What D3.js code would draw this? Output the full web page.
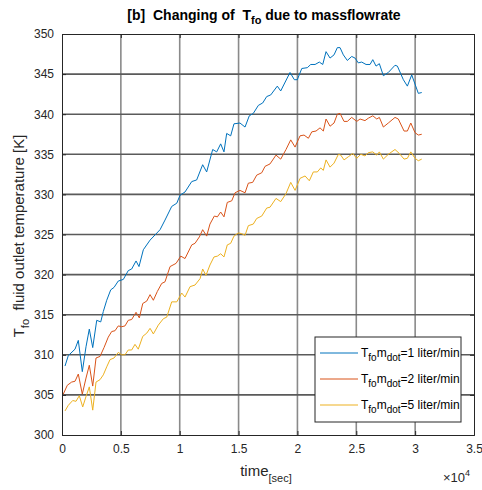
<!DOCTYPE html>
<html>
<head>
<meta charset="utf-8">
<script src="https://cdn.jsdelivr.net/npm/d3@7"></script>
<style>
  body { margin: 0; background: #fff; }
  text { font-family: "Liberation Sans", Arial, sans-serif; white-space: pre; }
</style>
</head>
<body>
<svg></svg>
<script>
const width = 482;
const height = 490;
const margin = {top: 34, right: 8, bottom: 55, left: 62};

// time in seconds, temperature in K
const tBlue = [255, 535, 1105, 1385, 1725, 2040, 2320, 2610, 2950, 3290, 3510, 3800, 4140, 4420, 4780,
  5210, 5630, 5920, 6290, 6540, 6910, 7480, 8330, 8750, 9320, 9750, 10030, 10450, 11020, 11440,
  11950, 12290, 12800, 13140, 13480, 13760, 13990, 14330, 14610, 15120, 15550, 15910, 16250, 16680, 17050,
  17390, 17730, 18290, 18580, 19370, 19740, 19990, 20370, 20840, 21130, 21500, 21860, 22150, 22430, 22770,
  23110, 23390, 23620, 23900, 24240, 24610, 24890, 25170, 25460, 25830, 26170, 26400, 26680, 26960, 27300,
  27720, 28290, 28490, 29000, 29340, 29710, 30270, 30560];
const fBlue = [308.6, 309.9, 310.7, 311.8, 307.9, 311.0, 313.2, 310.9, 314.3, 314.1, 315.4, 316.8, 318.1, 318.4, 319.2,
  319.4, 320.5, 320.7, 321.7, 321.0, 323.1, 324.3, 325.6, 326.8, 328.5, 328.9, 329.9, 330.3, 331.6, 331.8,
  333.7, 332.8, 335.6, 335.3, 336.3, 335.3, 337.6, 337.3, 338.8, 338.9, 338.4, 339.8, 340.1, 341.1, 341.4,
  342.2, 342.4, 343.5, 342.9, 345.2, 344.3, 344.3, 345.7, 345.8, 346.2, 346.2, 346.5, 346.2, 347.8, 347.0,
  347.4, 348.3, 348.3, 347.4, 346.7, 347.2, 347.0, 346.4, 346.5, 346.2, 346.2, 346.8, 346.0, 346.3, 344.8,
  345.2, 346.1, 346.0, 344.3, 343.5, 344.9, 342.6, 342.7];

const tOrange = [110, 450, 820, 1105, 1385, 1725, 2040, 2320, 2610, 2890, 3230, 3570, 3930, 4220, 4500,
  4780, 5070, 5350, 5630, 5920, 6290, 6570, 6860, 7200, 7480, 7760, 8100, 8470, 8750, 9180,
  9690, 10090, 10450, 11020, 11300, 11670, 11950, 12290, 12570, 12940, 13200, 13480, 13760, 14040, 14420,
  14700, 15120, 15550, 15830, 16200, 16540, 16970, 17250, 17670, 18180, 18580, 19030, 19430, 19800, 20220,
  20560, 20930, 21220, 21580, 21920, 22200, 22430, 22770, 23110, 23390, 23620, 23960, 24240, 24610, 25040,
  25320, 25740, 26020, 26400, 26740, 26960, 27300, 27720, 28290, 28570, 29060, 29340, 29630, 29990, 30270, 30560];
const fOrange = [305.1, 306.2, 306.6, 306.7, 307.6, 305.1, 307.1, 308.7, 306.1, 309.6, 309.8, 310.9, 312.2, 312.9, 313.0,
  313.6, 313.5, 313.6, 314.3, 314.4, 315.3, 314.6, 316.4, 316.7, 317.5, 316.8, 317.9, 318.9, 319.1, 321.0,
  321.4, 322.3, 322.0, 323.7, 323.9, 324.7, 325.6, 324.8, 326.3, 327.3, 327.2, 327.8, 327.2, 329.0, 329.2,
  330.2, 330.5, 330.2, 331.4, 331.5, 332.4, 332.7, 333.5, 333.8, 334.9, 334.4, 335.6, 336.8, 335.9, 337.3,
  337.4, 337.0, 337.8, 337.9, 338.3, 337.9, 339.4, 338.5, 338.9, 340.0, 340.1, 339.1, 339.1, 339.6, 339.1,
  339.4, 339.2, 339.5, 339.8, 339.4, 339.6, 338.4, 338.9, 339.6, 339.4, 337.9, 337.9, 338.9, 337.7, 337.4, 337.5];

const tYellow = [255, 535, 910, 1190, 1470, 1760, 2040, 2320, 2610, 2890, 3230, 3510, 3800, 4080, 4420,
  4780, 5070, 5350, 5630, 5920, 6200, 6480, 6860, 7200, 7480, 7760, 8180, 8610, 8900, 9320,
  9750, 10170, 10450, 10880, 11300, 11730, 11950, 12230, 12570, 12910, 13200, 13480, 13760, 14040, 14330,
  14610, 14980, 15270, 15550, 15830, 16250, 16540, 16970, 17390, 17670, 18180, 18580, 19030, 19430, 19800,
  20220, 20650, 21010, 21350, 21690, 21980, 22200, 22430, 22770, 23110, 23480, 23680, 23960, 24330, 24700,
  25040, 25380, 25740, 26020, 26400, 26740, 26960, 27300, 27720, 28290, 28660, 29060, 29340, 29630, 29990, 30270, 30560];
const fYellow = [303.0, 303.7, 304.3, 304.2, 304.9, 303.5, 304.8, 306.0, 303.1, 306.6, 306.9, 307.5, 308.5, 309.4, 309.6,
  310.3, 310.0, 310.0, 310.6, 310.6, 311.3, 310.7, 312.3, 312.7, 313.3, 312.6, 313.7, 314.5, 314.7, 316.6,
  316.6, 317.7, 317.2, 318.5, 318.7, 319.5, 320.7, 319.9, 321.2, 322.2, 322.3, 322.6, 322.2, 323.7, 323.9,
  324.8, 325.2, 325.1, 324.9, 326.1, 326.3, 327.0, 327.3, 328.3, 328.4, 329.5, 329.1, 330.1, 331.5, 330.5,
  332.0, 332.3, 331.7, 332.8, 332.8, 333.3, 333.0, 334.3, 333.4, 333.9, 335.0, 334.9, 334.3, 334.7, 335.1,
  334.5, 335.0, 334.8, 335.2, 335.3, 334.9, 335.3, 334.4, 335.0, 335.6, 335.1, 334.4, 334.5, 335.3, 334.5, 334.2, 334.4];

const seriesLabels = ["=1 liter/min", "=2 liter/min", "=5 liter/min"];
const colors = ["#0072BD", "#D95319", "#EDB120"];
const xTicks = [0, 5000, 10000, 15000, 20000, 25000, 30000, 35000];
const yTicks = [300, 305, 310, 315, 320, 325, 330, 335, 340, 345, 350];

const series = [
  tBlue.map((t, i) => [t, fBlue[i]]),
  tOrange.map((t, i) => [t, fOrange[i]]),
  tYellow.map((t, i) => [t, fYellow[i]])
];

let svg = d3.select("svg")
    .attr("width", width)
    .attr("height", height)

let x = d3.scaleLinear().domain([0, 35000]).range([margin.left, width - margin.right]);
let y = d3.scaleLinear().domain([300, 350]).range([height - margin.bottom, margin.top]);

// grid
svg.append("g")
    .selectAll("line")
    .data(xTicks.slice(1, -1))
    .join("line")
    .attr("x1", d => x(d)).attr("x2", d => x(d))
    .attr("y1", y(300)).attr("y2", y(350))
    .attr("stroke", "#8a8a8a")
    .attr("stroke-width", 1.6)
svg.append("g")
    .selectAll("line")
    .data(yTicks.slice(1, -1))
    .join("line")
    .attr("x1", x(0)).attr("x2", x(35000))
    .attr("y1", d => y(d)).attr("y2", d => y(d))
    .attr("stroke", "#5a5a5a")
    .attr("stroke-width", 1.6)

let line = d3.line()
    .x(d => x(d[0]))
    .y(d => y(d[1]));

svg.append("g")
    .selectAll("path")
    .data(series)
    .join("path")
    .attr("d", line)
    .attr("fill", "none")
    .attr("stroke", (d, i) => colors[i])
    .attr("stroke-width", 1)

// axes
svg.append("g")
    .attr("transform", `translate(0, ${y(300)})`)
    .call(d3.axisBottom(x).tickValues(xTicks).tickSize(-4).tickPadding(9).tickFormat(d => d / 10000))
    .call(g => g.selectAll("text").attr("font-size", 12).attr("fill", "#262626"))
svg.append("g")
    .attr("transform", `translate(0, ${y(350)})`)
    .call(d3.axisTop(x).tickValues(xTicks).tickSize(-4).tickFormat(""))
svg.append("g")
    .attr("transform", `translate(${x(0)}, 0)`)
    .call(d3.axisLeft(y).tickValues(yTicks).tickSize(-4).tickPadding(8))
    .call(g => g.selectAll("text").attr("font-size", 12).attr("fill", "#262626"))
svg.append("g")
    .attr("transform", `translate(${x(35000)}, 0)`)
    .call(d3.axisRight(y).tickValues(yTicks).tickSize(-4).tickFormat(""))
svg.selectAll(".domain").attr("stroke", "#262626")
svg.selectAll(".tick line").attr("stroke", "#262626")

// title
let title = svg.append("text")
    .attr("x", 264)
    .attr("y", 20)
    .attr("text-anchor", "middle")
    .attr("font-size", 14)
    .attr("font-weight", "bold")
    .attr("fill", "#000")
title.append("tspan").text("[b]  Changing of  T")
title.append("tspan").attr("dy", 4).attr("font-size", 11).text("fo")
title.append("tspan").attr("dy", -4).text(" due to massflowrate")

// x label
let xl = svg.append("text")
    .attr("x", 266)
    .attr("y", 476)
    .attr("text-anchor", "middle")
    .attr("font-size", 15)
    .attr("fill", "#262626")
xl.append("tspan").text("time")
xl.append("tspan").attr("dy", 6).attr("font-size", 11).text("[sec]")

let ex = svg.append("text")
    .attr("x", 443)
    .attr("y", 482)
    .attr("font-size", 13)
    .attr("fill", "#262626")
ex.append("tspan").text("\u00d710")
ex.append("tspan").attr("dy", -6).attr("font-size", 9).text("4")

// y label
let yl = svg.append("text")
    .attr("transform", "rotate(-90)")
    .attr("x", -236)
    .attr("y", 24)
    .attr("text-anchor", "middle")
    .attr("font-size", 15)
    .attr("fill", "#262626")
yl.append("tspan").text("T")
yl.append("tspan").attr("dy", 5).attr("font-size", 11).text("fo")
yl.append("tspan").attr("dy", -5).text("  fluid outlet temperature [K]")

// legend
let legend = svg.append("g")
legend.append("rect")
    .attr("x", 315).attr("y", 337)
    .attr("width", 146).attr("height", 85)
    .attr("fill", "#fff")
    .attr("stroke", "#262626")
    .attr("stroke-width", 1)
let rows = legend.selectAll("g.row")
    .data(seriesLabels)
    .join("g")
    .attr("class", "row")
    .attr("transform", (d, i) => `translate(0, ${353 + i * 26})`)
rows.append("line")
    .attr("x1", 320).attr("x2", 358)
    .attr("stroke", (d, i) => colors[i])
    .attr("stroke-width", 1)
let lt = rows.append("text")
    .attr("x", 361)
    .attr("y", 4)
    .attr("font-size", 12)
    .attr("fill", "#000")
lt.append("tspan").text("T")
lt.append("tspan").attr("dy", 4).attr("font-size", 10).text("fo")
lt.append("tspan").attr("dy", -4).text("m")
lt.append("tspan").attr("dy", 4).attr("font-size", 10).text("dot")
lt.append("tspan").attr("dy", -4).text(d => d)
</script>
</body>
</html>
